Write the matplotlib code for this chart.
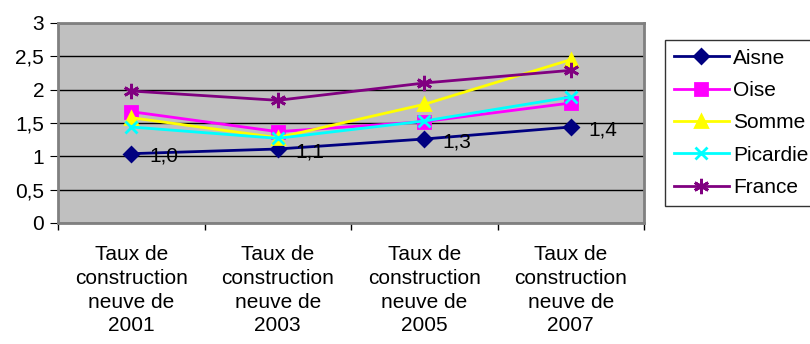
import matplotlib.pyplot as plt
import numpy as np

plt.rcParams['font.family'] = ['Liberation Sans', 'DejaVu Sans']

categories = ['Taux de\nconstruction\nneuve de\n2001', 'Taux de\nconstruction\nneuve de\n2003',
              'Taux de\nconstruction\nneuve de\n2005', 'Taux de\nconstruction\nneuve de\n2007']
aisne = [1.04, 1.11, 1.26, 1.44]
oise = [1.67, 1.37, 1.52, 1.80]
somme = [1.58, 1.28, 1.78, 2.45]
picardie = [1.44, 1.27, 1.53, 1.89]
france = [1.98, 1.84, 2.10, 2.29]

series = [
    ('Aisne', aisne, '#000080', 'D', 7),
    ('Oise', oise, '#FF00FF', 's', 8),
    ('Somme', somme, '#FFFF00', '^', 9),
    ('Picardie', picardie, '#00FFFF', 'x', 9),
    ('France', france, '#800080', (6, 2, 0), 11),
]

fs = 15

fig = plt.figure(figsize=(8.1, 3.44), dpi=100)
ax = fig.add_axes([58 / 810, 121 / 344, 586 / 810, 200 / 344])
ax.set_facecolor('#C0C0C0')

x = np.arange(len(categories))
for name, vals, color, marker, ms in series:
    ax.plot(x, vals, color=color, lw=2, marker=marker, ms=ms, mew=2,
            mec=color, mfc=color, label=name)

# value labels on the Aisne series
for xi, v in zip(x, aisne):
    ax.annotate(('%.1f' % v).replace('.', ','), (xi, v), xytext=(13, -2),
                textcoords='offset points', va='center', ha='left', fontsize=fs)

ax.set_xlim(-0.5, 3.5)
ax.set_ylim(0, 3)
ax.set_yticks(np.arange(0, 3.01, 0.5))
ax.set_yticklabels(['0', '0,5', '1', '1,5', '2', '2,5', '3'])
ax.yaxis.grid(True, color='black', lw=1)
ax.set_axisbelow(True)

ax.set_xticks(np.arange(-0.5, 3.6, 1))
ax.set_xticklabels([])
ax.set_xticks(x, minor=True)
ax.set_xticklabels(categories, minor=True, fontsize=fs, linespacing=1.31)
ax.tick_params(axis='x', which='minor', length=0, pad=16)
ax.tick_params(axis='x', which='major', length=5, color='black', width=1)
ax.tick_params(axis='y', length=6, color='black', labelsize=fs, pad=4)

for s in ax.spines.values():
    s.set_color('#808080')
    s.set_linewidth(2)

leg = fig.legend(loc='upper left', bbox_to_anchor=(665 / 810, 1 - 40 / 344),
                 frameon=True, fancybox=False, edgecolor='black', fontsize=fs,
                 handlelength=2.65, handletextpad=0.2, labelspacing=0.64,
                 borderpad=0.42, borderaxespad=0)
leg.get_frame().set_linewidth(1)

fig.savefig('out.png', dpi=100)
